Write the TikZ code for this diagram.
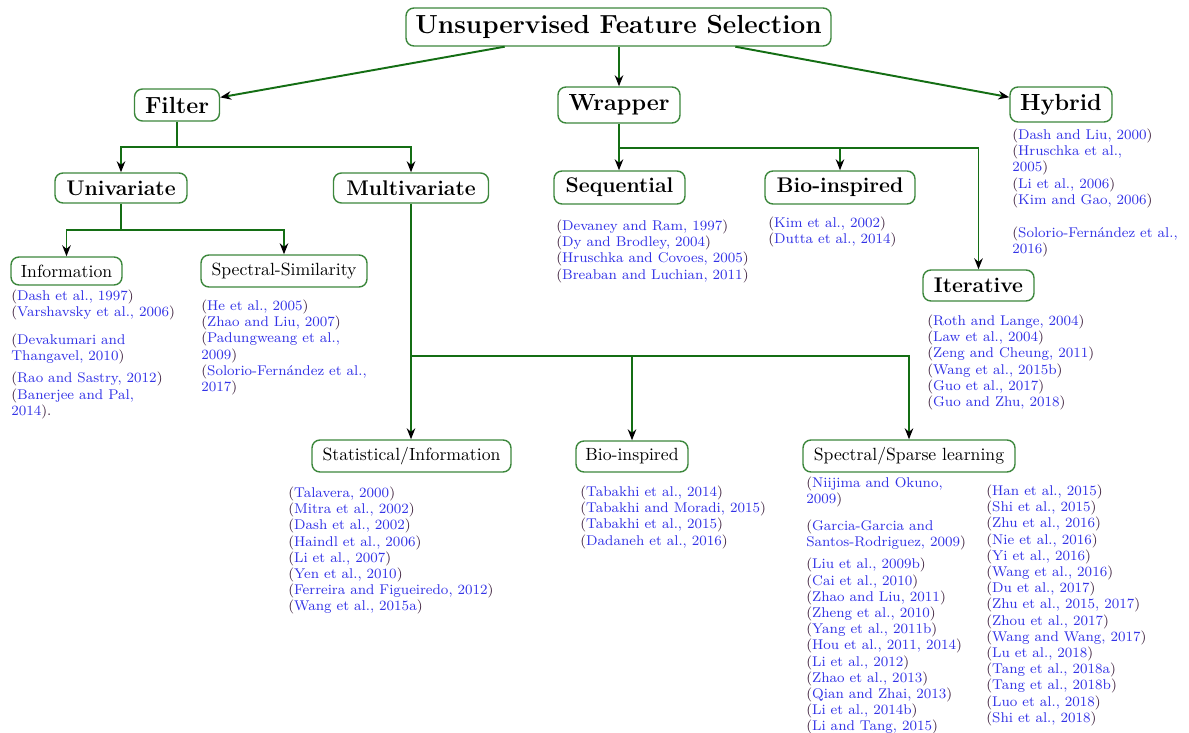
\documentclass[tikz,border=0pt]{standalone}
\usetikzlibrary{arrows.meta,calc}
\definecolor{edgecol}{RGB}{20,110,20}
\definecolor{bordcol}{RGB}{60,135,60}
\definecolor{citcol}{RGB}{50,50,230}
\definecolor{parcol}{RGB}{60,30,60}
\newcommand{\lp}{{\color{parcol}(}}
\newcommand{\rp}{{\color{parcol})}}
\newcommand{\pxl}{0.566pt}
\begin{document}
\begin{tikzpicture}[x=0.566pt,y=-0.566pt,
  box/.style={draw=bordcol,line width=0.8pt,rounded corners=4.5pt,fill=white,inner sep=0pt,text=black},
  sz/.style 2 args={minimum width=#1*\pxl,minimum height=#2*\pxl},
  top/.style={box,font=\fontsize{14.8}{17}\selectfont\bfseries},
  lone/.style={box,font=\fontsize{13.2}{15}\selectfont\bfseries},
  ltwo/.style={box,font=\large\bfseries},
  lthree/.style={box,font=\normalsize},
  arr/.style={draw=edgecol,line width=1.1pt,-{Stealth[black,length=6.2pt,width=4.8pt]}},
  ln/.style={draw=edgecol,line width=1.1pt},
  cites/.style={align=left,anchor=north west,inner sep=0pt,text=citcol,font=\fontsize{8}{9.17}\selectfont}]
\useasboundingbox (0,0) rectangle (1189,733);

% nodes
\node[top,sz={425}{38}] (title) at (618.5,27) {Unsupervised Feature Selection};
\node[lone,sz={85}{32}] (filter) at (177,105) {Filter};
\node[lone,sz={122}{36}] (wrapper) at (619,105) {Wrapper};
\node[lone,sz={102}{35}] (hybrid) at (1061,104.5) {Hybrid};
\node[ltwo,sz={132}{30}] (univ) at (121,188) {Univariate};
\node[ltwo,sz={155}{30}] (multi) at (411,188) {Multivariate};
\node[ltwo,sz={131}{33}] (seq) at (619.5,187.5) {Sequential};
\node[ltwo,sz={150}{33}] (biow) at (840,187.5) {Bio-inspired};
\node[ltwo,sz={111}{31}] (iter) at (978.5,285.5) {Iterative};
\node[lthree,sz={111}{28}] (info) at (66.5,271) {Information};
\node[lthree,sz={166}{32}] (specsim) at (284,271) {Spectral-Similarity};
\node[lthree,sz={199}{32}] (stat) at (411.5,456) {Statistical/Information};
\node[lthree,sz={112}{31}] (biom) at (632,456.5) {Bio-inspired};
\node[lthree,sz={212}{32}] (sparse) at (909,456) {Spectral/Sparse learning};

% connectors from the root
\coordinate (t1) at ($(title.south west)!0.233!(title.south east)$);
\coordinate (t2) at ($(title.south west)!0.774!(title.south east)$);
\draw[arr] (t1) -- (filter.10);
\draw[arr] (wrapper.north |- title.south) -- (wrapper.north);
\draw[arr] (t2) -- (hybrid.172);

% filter
\path (filter.south) ++(0,25) coordinate (fj);
\draw[ln] (filter.south) -- (fj);
\draw[arr] (fj) -| (univ.north);
\draw[arr] (fj) -| (multi.north);

% wrapper
\path (wrapper.south) ++(0,24) coordinate (wj);
\draw[arr] (wrapper.south) -- (wrapper.south |- seq.north);
\draw[arr] (wj) -| (biow.north);
\draw[arr] (wj) -| (iter.north);

% univariate
\path (univ.south) ++(0,26) coordinate (uj);
\draw[ln] (univ.south) -- (uj);
\draw[arr] (uj) -| (info.north);
\draw[arr] (uj) -| (specsim.north);

% multivariate
\path (multi.south) ++(0,152) coordinate (mj);
\draw[arr] (multi.south) -- (multi.south |- stat.north);
\draw[arr] (mj) -| (biom.north);
\draw[arr] (mj) -| (sparse.north);

% citations
\node[cites] (c-hyb) at (1012,128.5) {\lp Dash and Liu, 2000\rp\\
\lp Hruschka et al.,\\
2005\rp\\
\lp Li et al., 2006\rp\\
\lp Kim and Gao, 2006\rp\\[9.5pt]
\lp Solorio-Fern\'andez et al.,\\
2016\rp};

\node[cites] (c-seq) at (556,219.5) {\lp Devaney and Ram, 1997\rp\\
\lp Dy and Brodley, 2004\rp\\
\lp Hruschka and Covoes, 2005\rp\\
\lp Breaban and Luchian, 2011\rp};

\node[cites] (c-biow) at (768,216.5) {\lp Kim et al., 2002\rp\\
\lp Dutta et al., 2014\rp};

\node[cites] (c-iter) at (927,314.5) {\lp Roth and Lange, 2004\rp\\
\lp Law et al., 2004\rp\\
\lp Zeng and Cheung, 2011\rp\\
\lp Wang et al., 2015b\rp\\
\lp Guo et al., 2017\rp\\
\lp Guo and Zhu, 2018\rp};

\node[cites] (c-info) at (11,289.5) {\lp Dash et al., 1997\rp\\
\lp Varshavsky et al., 2006\rp\\[6.7pt]
\lp Devakumari and\\
Thangavel, 2010\rp\\[3.3pt]
\lp Rao and Sastry, 2012\rp\\
\lp Banerjee and Pal,\\
2014\rp{\color{parcol}.}};

\node[cites] (c-spec) at (201,299.5) {\lp He et al., 2005\rp\\
\lp Zhao and Liu, 2007\rp\\
\lp Padungweang et al.,\\
2009\rp\\
\lp Solorio-Fern\'andez et al.,\\
2017\rp};

\node[cites] (c-stat) at (288,486.5) {\lp Talavera, 2000\rp\\
\lp Mitra et al., 2002\rp\\
\lp Dash et al., 2002\rp\\
\lp Haindl et al., 2006\rp\\
\lp Li et al., 2007\rp\\
\lp Yen et al., 2010\rp\\
\lp Ferreira and Figueiredo, 2012\rp\\
\lp Wang et al., 2015a\rp};

\node[cites] (c-biom) at (580,485.5) {\lp Tabakhi et al., 2014\rp\\
\lp Tabakhi and Moradi, 2015\rp\\
\lp Tabakhi et al., 2015\rp\\
\lp Dadaneh et al., 2016\rp};

\node[cites] (c-sp1) at (806,476.5) {\lp Niijima and Okuno,\\
2009\rp\\[6.1pt]
\lp Garcia-Garcia and\\
Santos-Rodriguez, 2009\rp\\[3.3pt]
\lp Liu et al., 2009b\rp\\
\lp Cai et al., 2010\rp\\
\lp Zhao and Liu, 2011\rp\\
\lp Zheng et al., 2010\rp\\
\lp Yang et al., 2011b\rp\\
\lp Hou et al., 2011, 2014\rp\\
\lp Li et al., 2012\rp\\
\lp Zhao et al., 2013\rp\\
\lp Qian and Zhai, 2013\rp\\
\lp Li et al., 2014b\rp\\
\lp Li and Tang, 2015\rp};

\node[cites] (c-sp2) at (986,484.5) {\lp Han et al., 2015\rp\\
\lp Shi et al., 2015\rp\\
\lp Zhu et al., 2016\rp\\
\lp Nie et al., 2016\rp\\
\lp Yi et al., 2016\rp\\
\lp Wang et al., 2016\rp\\
\lp Du et al., 2017\rp\\
\lp Zhu et al., 2015, 2017\rp\\
\lp Zhou et al., 2017\rp\\
\lp Wang and Wang, 2017\rp\\
\lp Lu et al., 2018\rp\\
\lp Tang et al., 2018a\rp\\
\lp Tang et al., 2018b\rp\\
\lp Luo et al., 2018\rp\\
\lp Shi et al., 2018\rp};
\end{tikzpicture}
\end{document}
